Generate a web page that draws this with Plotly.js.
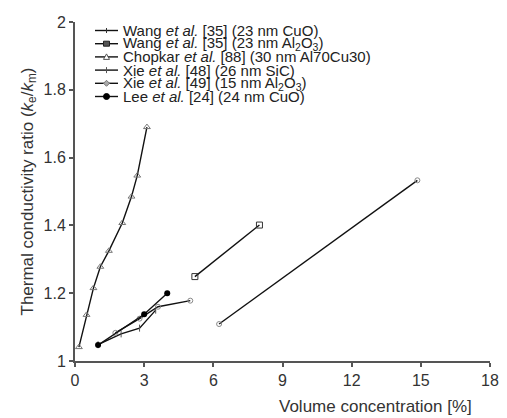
<!DOCTYPE html>
<html>
<head>
<meta charset="utf-8">
<script src="https://cdn.plot.ly/plotly-3.0.1.min.js"></script>
<style>html,body{margin:0;padding:0;background:#fff;}#chart{width:507px;height:418px;}</style>
</head>
<body>
<div id="chart"></div>
<script>
// Series data
const wangCuO_x = [6.25, 14.85];
const wangCuO_y = [1.109, 1.533];
const wangAl_x = [5.2, 8.0];
const wangAl_y = [1.249, 1.401];
const chopkar_x = [0.17, 0.5, 0.8, 1.1, 1.47, 2.05, 2.45, 2.7, 3.12];
const chopkar_y = [1.041, 1.136, 1.215, 1.278, 1.325, 1.407, 1.485, 1.547, 1.69];
const xie48_x = [1.0, 2.0, 2.8, 3.5];
const xie48_y = [1.048, 1.08, 1.097, 1.15];
const xie49_x = [1.75, 2.8, 3.6, 5.0];
const xie49_y = [1.083, 1.125, 1.16, 1.178];
const lee_x = [1.0, 3.0, 4.0];
const lee_y = [1.047, 1.138, 1.2];

const names = [
  'Wang <i>et al.</i> [35] (23 nm CuO)',
  'Wang <i>et al.</i> [35] (23 nm Al<sub>2</sub>O<sub>3</sub>)',
  'Chopkar <i>et al.</i> [88] (30 nm Al70Cu30)',
  'Xie <i>et al.</i> [48] (26 nm SiC)',
  'Xie <i>et al.</i> [49] (15 nm Al<sub>2</sub>O<sub>3</sub>)',
  'Lee <i>et al.</i> [24] (24 nm CuO)'
];

const lineStyle = {color: '#111', width: 1.4};
const traces = [
  {x: wangCuO_x, y: wangCuO_y, name: names[0], mode: 'lines+markers', line: lineStyle,
   marker: {symbol: 'circle-open', size: 5, color: '#888', line: {width: 1, color: '#888'}}},
  {x: wangAl_x, y: wangAl_y, name: names[1], mode: 'lines+markers', line: lineStyle,
   marker: {symbol: 'square-open', size: 6, color: '#333', line: {width: 1, color: '#333'}}},
  {x: chopkar_x, y: chopkar_y, name: names[2], mode: 'lines+markers', line: lineStyle,
   marker: {symbol: 'triangle-up-open', size: 6, color: '#777', line: {width: 1, color: '#777'}}},
  {x: xie48_x, y: xie48_y, name: names[3], mode: 'lines+markers', line: lineStyle,
   marker: {symbol: 'line-ns-open', size: 5, color: '#555', line: {width: 1, color: '#555'}}},
  {x: xie49_x, y: xie49_y, name: names[4], mode: 'lines+markers', line: lineStyle,
   marker: {symbol: 'circle-open', size: 5, color: '#888', line: {width: 1, color: '#888'}}},
  {x: lee_x, y: lee_y, name: names[5], mode: 'lines+markers', line: lineStyle,
   marker: {symbol: 'circle', size: 6, color: '#000'}}
];

// Compact hand-drawn legend (plot area: x 75..490 px, y 22..361 px)
const M = {l: 75, r: 17, t: 22, b: 57};
const PW = 507 - M.l - M.r, PH = 418 - M.t - M.b;
const px = v => (v - M.l) / PW;
const py = v => (418 - M.b - v) / PH;
const rowY = [30.5, 43.7, 56.9, 70.1, 83.3, 96.5];
const legMarkers = ['tick', 'square', 'triangle', 'cross', 'diamond', 'dot'];
const shapes = [], annotations = [];
rowY.forEach((r, i) => {
  shapes.push({type: 'line', xref: 'paper', yref: 'paper', x0: px(95), x1: px(118), y0: py(r), y1: py(r),
               line: {color: '#111', width: 1.4}});
  const base = {xref: 'paper', yref: 'paper', xsizemode: 'pixel', ysizemode: 'pixel',
                xanchor: px(106.5), yanchor: py(r)};
  const m = legMarkers[i];
  if (m === 'tick') shapes.push(Object.assign({type: 'line', x0: 0, x1: 0, y0: -2.5, y1: 2.5, line: {color: '#333', width: 1}}, base));
  if (m === 'square') shapes.push(Object.assign({type: 'rect', x0: -3, x1: 3, y0: -2.5, y1: 2.5, fillcolor: '#555', line: {color: '#222', width: 1}}, base));
  if (m === 'triangle') shapes.push(Object.assign({type: 'path', path: 'M-3,-2.5L3,-2.5L0,3Z', fillcolor: '#fff', line: {color: '#555', width: 1}}, base));
  if (m === 'cross') shapes.push(Object.assign({type: 'line', x0: 0, x1: 0, y0: -3, y1: 3, line: {color: '#555', width: 1}}, base));
  if (m === 'diamond') shapes.push(Object.assign({type: 'path', path: 'M-3,0L0,3L3,0L0,-3Z', fillcolor: '#aaa', line: {color: '#777', width: 1}}, base));
  if (m === 'dot') shapes.push(Object.assign({type: 'circle', x0: -3, x1: 3, y0: -3, y1: 3, fillcolor: '#000', line: {color: '#000', width: 1}}, base));
  annotations.push({text: names[i], xref: 'paper', yref: 'paper', x: px(121), y: py(r),
                    xanchor: 'left', yanchor: 'middle', showarrow: false,
                    font: {size: 15, color: '#222'}});
});
annotations.push({
  text: 'Volume concentration [%]', xref: 'paper', yref: 'paper',
  x: px(474), y: 0, xanchor: 'right', yanchor: 'top', yshift: -34, showarrow: false,
  font: {size: 17, color: '#333'}
});

const layout = {
  width: 507, height: 418,
  margin: M,
  paper_bgcolor: '#fff', plot_bgcolor: '#fff',
  font: {family: 'Liberation Sans, Arial, sans-serif', color: '#333', size: 16},
  showlegend: false,
  xaxis: {range: [0, 18], dtick: 3, tick0: 0, showgrid: false, zeroline: false,
          showline: true, linecolor: '#555', linewidth: 2, ticks: 'outside', ticklen: 4,
          tickcolor: '#555', tickwidth: 2, tickfont: {size: 16, color: '#333'}},
  yaxis: {range: [1, 2], dtick: 0.2, tick0: 1, showgrid: false, zeroline: false,
          showline: true, linecolor: '#555', linewidth: 2, ticks: 'outside', ticklen: 4,
          tickcolor: '#555', tickwidth: 2, tickfont: {size: 16, color: '#333'},
          title: {text: 'Thermal conductivity ratio (<i>k</i><sub>e</sub>/<i>k</i><sub>m</sub>)',
                  font: {size: 17, color: '#333'}, standoff: 6}},
  shapes: shapes,
  annotations: annotations
};

Plotly.newPlot('chart', traces, layout, {displayModeBar: false, staticPlot: true});
</script>
</body>
</html>
